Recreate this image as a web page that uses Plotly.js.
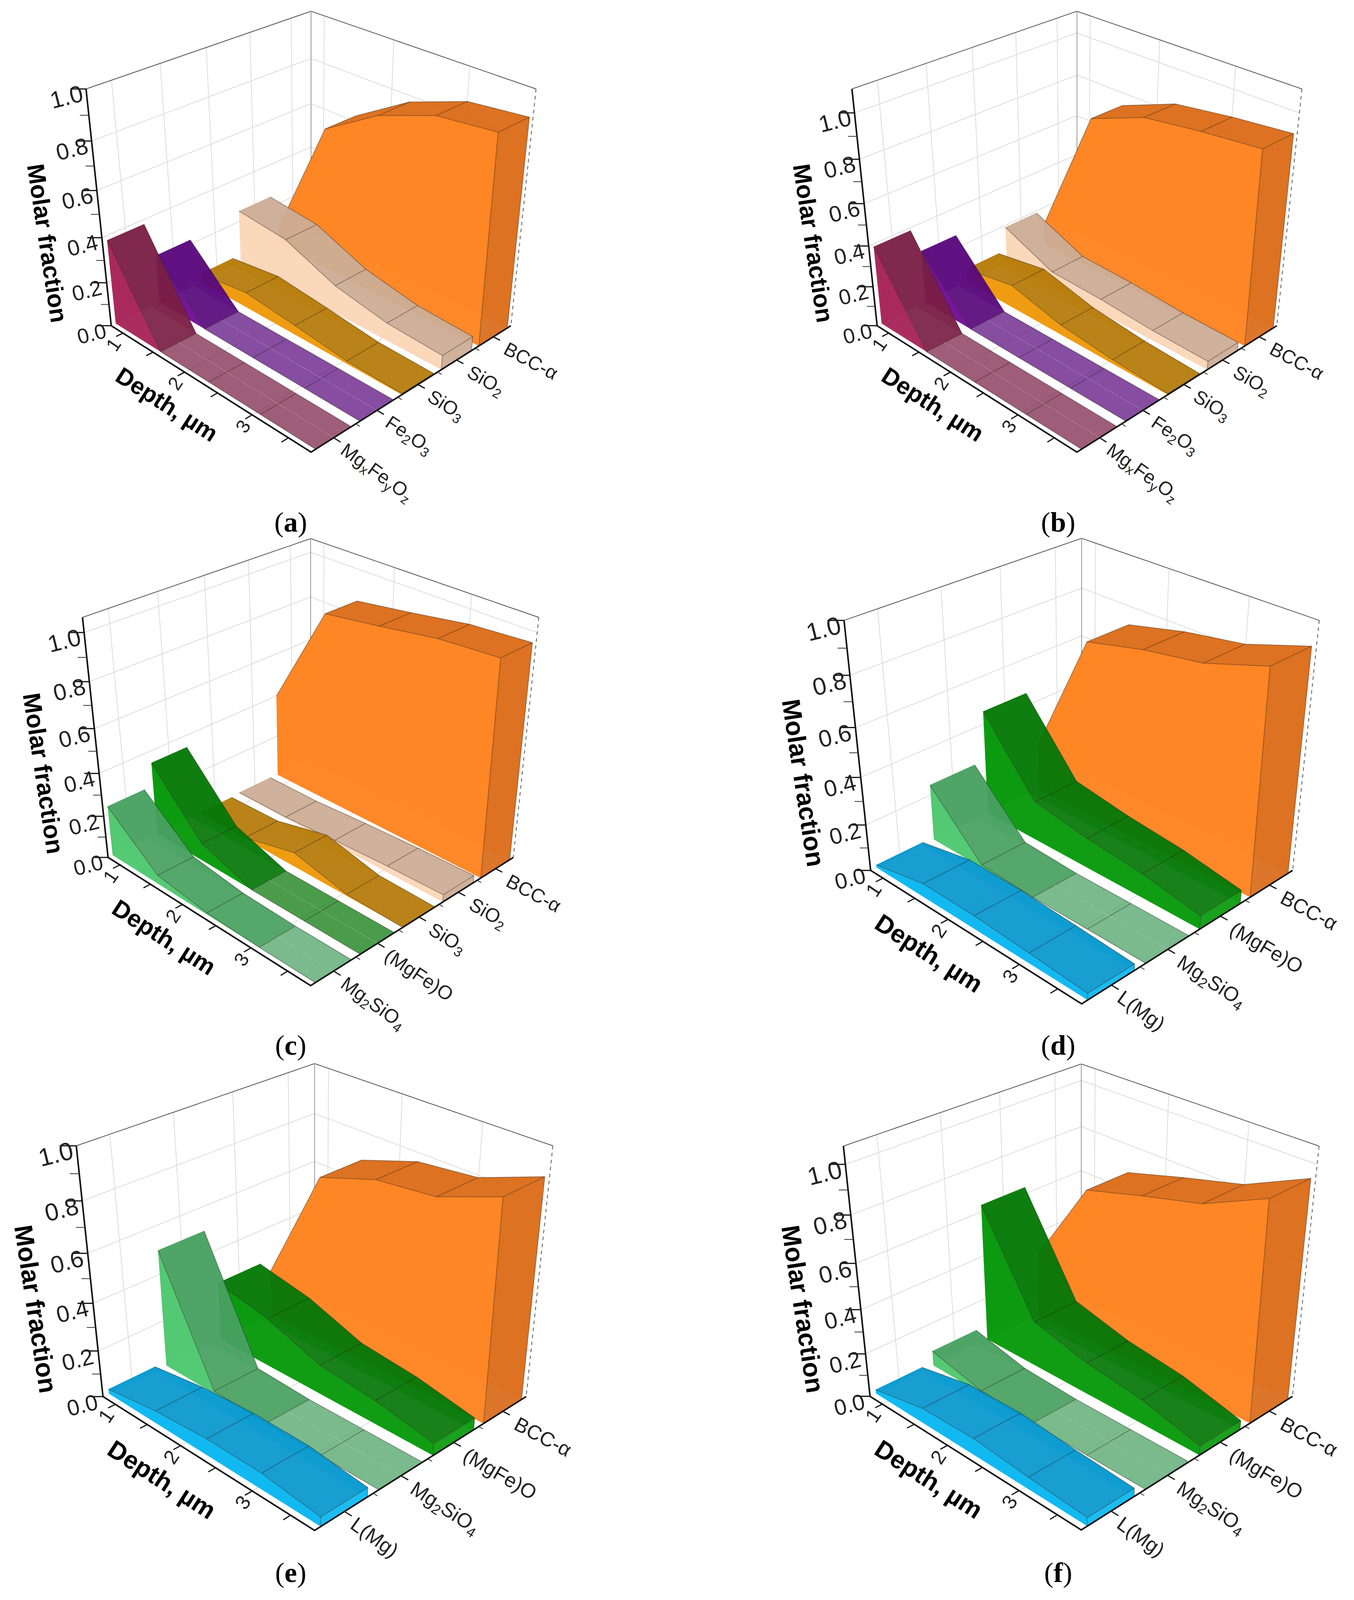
<!DOCTYPE html>
<html>
<head>
<meta charset="utf-8">
<script src="https://cdn.plot.ly/plotly-3.0.1.min.js"></script>
<style>html,body{margin:0;padding:0;background:#fff}</style>
</head>
<body>
<div id="chart" style="width:3465px;height:4090px"></div>
<script>
const depth = [0.8, 1.55, 2.3, 3.05, 3.8]
const depth_ticks = [1, 1.5, 2, 2.5, 3, 3.5]
const depth_labels = ['1', '', '2', '', '3', '']
const fraction_ticks = [0, 0.2, 0.4, 0.6, 0.8, 1.0]
const fraction_labels = ['0.0', '0.2', '0.4', '0.6', '0.8', '1.0']

const phases_ab = ['Mg<sub>x</sub>Fe<sub>y</sub>O<sub>z</sub>', 'Fe<sub>2</sub>O<sub>3</sub>', 'SiO<sub>3</sub>', 'SiO<sub>2</sub>', 'BCC-α']
const phases_c = ['Mg<sub>2</sub>SiO<sub>4</sub>', '(MgFe)O', 'SiO<sub>3</sub>', 'SiO<sub>2</sub>', 'BCC-α']
const phases_def = ['L(Mg)', 'Mg<sub>2</sub>SiO<sub>4</sub>', '(MgFe)O', 'BCC-α']

const colors_ab = ['mg', 'fe', 'sio3', 'sio2', 'bcc']
const colors_c = ['mg2', 'mgfe', 'sio3', 'sio2', 'bcc']
const colors_def = ['lmg', 'mg2', 'mgfe', 'bcc']

// near wall, top face, end cap
const palette = {
    bcc: ['255,131,32', '217,106,24', '217,106,24'],
    sio2: ['252,214,184', '203,170,148', '203,170,148'],
    sio3: ['238,152,8', '180,120,6', '180,120,6'],
    fe: ['112,14,150', '88,8,124', '88,8,124'],
    mg: ['168,36,88', '120,30,68', '120,30,68'],
    mgfe: ['6,153,10', '4,118,6', '6,153,10'],
    mg2: ['78,200,110', '70,160,96', '70,160,96'],
    lmg: ['8,182,240', '4,150,205', '8,182,240'],
}

const a_mg = [0.38, 0, 0, 0, 0]
const a_fe = [0.22, 0, 0, 0, 0]
const a_sio3 = [0.04, 0.07, 0.043, 0.012, 0.005]
const a_sio2 = [0.25, 0.225, 0.128, 0.08, 0.065]
const a_bcc = [0.08, 0.64, 0.786, 0.874, 0.90]

const b_mg = [0.387, 0, 0, 0, 0]
const b_fe = [0.265, 0, 0, 0, 0]
const b_sio3 = [0.07, 0.115, 0.05, 0.02, 0.005]
const b_sio2 = [0.19, 0.08, 0.07, 0.05, 0.042]
const b_bcc = [0.11, 0.753, 0.856, 0.893, 0.92]

const c_mg2 = [0.237, 0.042, 0.008, 0, 0]
const c_mgfe = [0.345, 0.085, 0, 0, 0]
const c_sio3 = [0, 0.006, 0.067, 0.007, 0]
const c_sio2 = [0.005, 0.005, 0.02, 0.03, 0.035]
const c_bcc = [0.40, 0.874, 0.91, 0.95, 0.967]

const d_lmg = [0.012, 0.06, 0.058, 0.044, 0.028]
const d_mg2 = [0.244, 0.012, 0, 0, 0]
const d_mgfe = [0.454, 0.17, 0.13, 0.103, 0.058]
const d_bcc = [0.20, 0.74, 0.797, 0.836, 0.916]

const e_lmg = [0.02, 0.055, 0.072, 0.07, 0.04]
const e_mg2 = [0.50, 0.012, 0, 0, 0]
const e_mgfe = [0.256, 0.21, 0.126, 0.10, 0.052]
const e_bcc = [0.20, 0.70, 0.78, 0.806, 0.898]

const f_lmg = [0.018, 0.07, 0.077, 0.055, 0.038]
const f_mg2 = [0.07, 0.013, 0, 0, 0]
const f_mgfe = [0.63, 0.21, 0.145, 0.11, 0.042]
const f_bcc = [0.29, 0.695, 0.768, 0.835, 0.955]

const panels = [
    {letter: 'a', phases: phases_ab, colors: colors_ab, series: [a_mg, a_fe, a_sio3, a_sio2, a_bcc], z_max: 1.0, cx: 796, cy: 596, k: 1, cap: [744, 1452]},
    {letter: 'b', phases: phases_ab, colors: colors_ab, series: [b_mg, b_fe, b_sio3, b_sio2, b_bcc], z_max: 1.10, cx: 2756, cy: 596, k: 1, cap: [2708, 1452]},
    {letter: 'c', phases: phases_c, colors: colors_c, series: [c_mg2, c_mgfe, c_sio3, c_sio2, c_bcc], z_max: 1.06, cx: 795, cy: 2070, k: 1.014, cap: [744, 2906]},
    {letter: 'd', phases: phases_def, colors: colors_def, series: [d_lmg, d_mg2, d_mgfe, d_bcc], z_max: 1.0, cx: 2768, cy: 2093, k: 1.056, cap: [2708, 2906]},
    {letter: 'e', phases: phases_def, colors: colors_def, series: [e_lmg, e_mg2, e_mgfe, e_bcc], z_max: 1.0, cx: 805, cy: 3555, k: 1.059, cap: [744, 4372]},
    {letter: 'f', phases: phases_def, colors: colors_def, series: [f_lmg, f_mg2, f_mgfe, f_bcc], z_max: 1.07, cx: 2767, cy: 3555, k: 1.057, cap: [2708, 4372]},
]

// the screenshot stops near 4096 px, so the y axis squeezes the 4442 tall figure into that
const fig_w = 3465, fig_h = 4442, plot_h = 4090
const squash = plot_h / fig_h

// camera for the pseudo-3D box, all panels share it
const cam = {dist: 1000, focal: 3356, half_diag: 161.4, half_height: 114.3, sin_p: 0.519, cos_p: 0.855}
const half_width = 0.4
const traces = [], notes = []

function project(p, u, v, w) {
    var hor = cam.half_diag * (u - v)
    var right = cam.half_diag * (u + v - 1)
    var zh = cam.half_height * (2 * w - 1)
    var toward = zh * cam.sin_p + hor * cam.cos_p
    var up = zh * cam.cos_p - hor * cam.sin_p
    var s = p.k * cam.focal / (cam.dist - toward)
    return [p.cx + right * s, p.cy - up * s, s]
}

function depth_frac(x) {
    return (x - depth[0]) / (depth[depth.length - 1] - depth[0])
}

function squashed_angle(deg) {
    return Math.atan(Math.tan(deg * Math.PI / 180) * squash) * 180 / Math.PI
}

function add_fill(shapes, rgb, alpha) {
    if (!shapes.length) return
    var xs = [], ys = []
    shapes.forEach(function (pts) {
        pts.forEach(function (q) { xs.push(q[0]); ys.push(q[1]) })
        xs.push(pts[0][0], null); ys.push(pts[0][1], null)
    })
    traces.push({type: 'scatter', mode: 'lines', x: xs, y: ys, fill: 'toself',
        fillcolor: 'rgba(' + rgb + ',' + alpha + ')', line: {width: 0}, hoverinfo: 'skip', showlegend: false})
}

function add_lines(segments, color, width, dash) {
    if (!segments.length) return
    var xs = [], ys = []
    segments.forEach(function (pts) {
        pts.forEach(function (q) { xs.push(q[0]); ys.push(q[1]) })
        xs.push(null); ys.push(null)
    })
    traces.push({type: 'scatter', mode: 'lines', x: xs, y: ys,
        line: {color: color, width: width, dash: dash || 'solid'}, hoverinfo: 'skip', showlegend: false})
}

function signed_area(pts) {
    var sum = 0
    pts.forEach(function (q, i) {
        var r = pts[(i + 1) % pts.length]
        sum += q[0] * r[1] - r[0] * q[1]
    })
    return sum / 2
}

function add_ribbon(p, values, row, color_key) {
    var n = p.phases.length
    var near = (row - half_width - 0.5) / n, far = (row + half_width - 0.5) / n
    var mid = (row - 0.5) / n
    var us = depth.map(depth_frac)
    var ws = values.map(z => z / p.z_max)
    var col = palette[color_key]
    var near_base = us.map(u => project(p, u, near, 0))
    var far_base = us.map(u => project(p, u, far, 0))
    var near_top = us.map((u, i) => project(p, u, near, ws[i]))
    var far_top = us.map((u, i) => project(p, u, far, ws[i]))
    var last = us.length - 1

    add_fill([far_top.concat(far_base.slice().reverse())], col[0], 0.45)
    add_fill([[near_base[0], far_base[0], far_top[0], near_top[0]]], col[0], 0.45)

    var raised = [], level = [], away = [], edges = [], floor_marks = []
    for (var i = 0; i < last; i++) {
        var quad = [near_top[i], near_top[i + 1], far_top[i + 1], far_top[i]]
        var floor = [near_base[i], near_base[i + 1], far_base[i + 1], far_base[i]]
        if (values[i] === 0 && values[i + 1] === 0) {
            level.push(quad)
            floor_marks.push([project(p, us[i], mid, 0), project(p, us[i + 1], mid, 0)])
        } else if (signed_area(quad) * signed_area(floor) < 0) {
            // this face turns its back on the viewer, it shows only through the walls
            away.push(quad)
        } else {
            raised.push(quad)
        }
        if (signed_area(quad) * signed_area(floor) >= 0) edges.push([far_top[i], far_top[i + 1]])
    }
    add_fill(away, col[0], 0.45)
    add_fill(raised, col[1], 0.92)
    add_fill(level, col[1], 0.72)
    add_fill([near_top.concat(near_base.slice().reverse())], col[0], 0.96)
    add_fill([[near_base[last], far_base[last], far_top[last], near_top[last]]], col[2], 0.92)

    edges.push(near_top)
    for (var i = 1; i <= last; i++) edges.push([near_top[i], far_top[i]])
    edges.push([near_top[last], near_base[last]], [far_top[last], far_base[last]])
    add_lines(edges, 'rgba(40,30,20,0.42)', 2)
    add_lines(floor_marks, 'rgba(255,255,255,0.4)', 2, 'dot')
}

function add_box(p) {
    var n = p.phases.length
    var grid = [], row_fracs = p.phases.map((_, i) => (i + 0.5) / n)
    var depth_majors = depth_ticks.filter((_, i) => depth_labels[i]).map(depth_frac)
    var z_fracs = fraction_ticks.filter(z => z > 0 && z / p.z_max < 0.995).map(z => z / p.z_max)
    z_fracs.forEach(function (w) {
        grid.push([project(p, 0, 0, w), project(p, 0, 1, w), project(p, 1, 1, w)])
    })
    row_fracs.forEach(function (v) {
        grid.push([project(p, 0, v, 1), project(p, 0, v, 0), project(p, 1, v, 0)])
    })
    depth_majors.forEach(function (u) {
        grid.push([project(p, u, 1, 1), project(p, u, 1, 0), project(p, u, 0, 0)])
    })
    add_lines(grid, '#dcdcdc', 2)
    add_lines([[project(p, 0, 0, 1), project(p, 0, 1, 1), project(p, 1, 1, 1)]], '#555', 2)
    add_lines([[project(p, 0, 1, 1), project(p, 0, 1, 0)]], '#999', 2)
    add_lines([[project(p, 1, 1, 1), project(p, 1, 1, 0)]], '#555', 2, 'dash')
}

function add_axes(p) {
    var n = p.phases.length, axes = [], ticks = [], minor = []
    axes.push([project(p, 0, 0, 1), project(p, 0, 0, 0), project(p, 1, 0, 0), project(p, 1, 1, 0)])
    var font_size = 49 * p.k

    depth_ticks.forEach(function (t, i) {
        var u = depth_frac(t)
        ticks.push([project(p, u, 0, 0), project(p, u, -0.03, 0)])
        if (depth_labels[i]) {
            var q = project(p, u, 0, 0)
            notes.push({x: q[0], y: q[1], xref: 'x', yref: 'y', text: depth_labels[i], textangle: squashed_angle(-58), showarrow: false,
                xshift: -24, yshift: -32 * squash, font: {family: 'Liberation Sans', size: font_size, color: '#222'}})
        }
    })
    p.phases.forEach(function (label, i) {
        var v = (i + 0.5) / n
        ticks.push([project(p, 1, v, 0), project(p, 1.03, v, 0)])
        if (i > 0) minor.push([project(p, 1, i / n, 0), project(p, 1.018, i / n, 0)])
        var q = project(p, 1, v, 0)
        notes.push({x: q[0], y: q[1], xref: 'x', yref: 'y', text: label, textangle: squashed_angle(38 - 8 * (i / (n - 1))), showarrow: false,
            xanchor: 'left', yanchor: 'top', xshift: (2 + 14 * i / (n - 1)) * p.k, yshift: 0,
            font: {family: 'Liberation Sans', size: font_size, color: '#222'}})
    })
    fraction_ticks.forEach(function (t, i) {
        var w = t / p.z_max
        var q = project(p, 0, 0, w)
        ticks.push([q, project(p, -0.035, -0.035, w)])
        if (i > 0) {
            var w_mid = (t - 0.1) / p.z_max
            minor.push([project(p, 0, 0, w_mid), project(p, -0.02, -0.02, w_mid)])
        }
        notes.push({x: q[0], y: q[1], xref: 'x', yref: 'y', text: fraction_labels[i], textangle: -14, showarrow: false,
            xshift: -50 * p.k, yshift: -22 * p.k * squash,
            font: {family: 'Liberation Sans', size: 17 * q[2], color: '#222'}})
    })
    add_lines(axes, '#111', 4)
    add_lines(ticks, '#111', 3)
    add_lines(minor, '#333', 2)

    var mid_z = project(p, 0, 0, 0.45)
    notes.push({x: mid_z[0], y: mid_z[1], xref: 'x', yref: 'y', text: '<b>Molar fraction</b>', textangle: squashed_angle(82), showarrow: false,
        xshift: -136 * p.k, yshift: -47 * p.k * squash, font: {family: 'Liberation Sans', size: 62 * p.k, color: '#000'}})
    var mid_x = project(p, 0.5, 0, 0)
    notes.push({x: mid_x[0], y: mid_x[1], xref: 'x', yref: 'y', text: '<b>Depth, µm</b>', textangle: squashed_angle(35), showarrow: false,
        xshift: -96 * p.k, yshift: -55 * p.k * squash, font: {family: 'Liberation Sans', size: 61 * p.k, color: '#000'}})
}

panels.forEach(function (p) {
    add_box(p)
    // far rows first so that nearer ones paint over them
    for (var i = p.series.length - 1; i >= 0; i--) add_ribbon(p, p.series[i], i + 1, p.colors[i])
    add_axes(p)
    notes.push({x: p.cap[0], y: p.cap[1], xref: 'x', yref: 'y', showarrow: false,
        text: '(<b>' + p.letter + '</b>)', font: {family: 'Liberation Serif', size: 72, color: '#000'}})
})

Plotly.newPlot('chart', traces, {
    width: fig_w, height: plot_h, margin: {l: 0, r: 0, t: 0, b: 0},
    paper_bgcolor: '#fff', plot_bgcolor: '#fff', showlegend: false,
    xaxis: {range: [0, fig_w], visible: false},
    yaxis: {range: [fig_h, 0], visible: false},
    annotations: notes,
}, {displayModeBar: false})
</script>
</body>
</html>
